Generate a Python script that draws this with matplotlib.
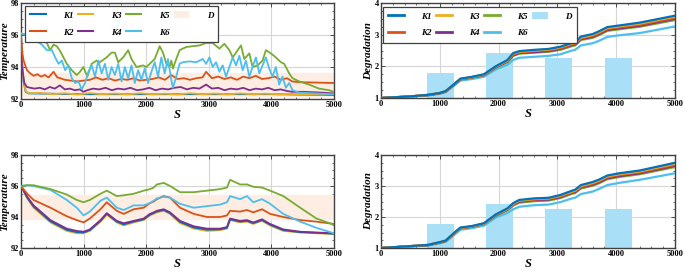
import matplotlib
matplotlib.use("Agg")
import matplotlib.pyplot as plt
from matplotlib.ticker import MultipleLocator
from matplotlib.patches import Patch
from matplotlib.lines import Line2D

plt.rcParams['font.family'] = ['Liberation Serif', 'DejaVu Serif']

names = ['K1', 'K2', 'K3', 'K4', 'K5', 'K6']
colors = {'K1': '#0072BD', 'K2': '#D95319', 'K3': '#EDB120',
          'K4': '#7E2F8E', 'K5': '#77AC30', 'K6': '#4DBEEE'}
band_color = '#FDEDE3'
bar_color = '#A9E0F7'

# ---------------- top-left: temperature (case 1) ----------------
t1_K1_x = [0, 16, 40, 75, 120, 1000, 2000, 3000, 4000, 5000]
t1_K1_y = [96.0, 94.4, 93.1, 92.45, 92.35, 92.3, 92.3, 92.3, 92.3, 92.25]
t1_K3_x = [0, 16, 40, 75, 120, 300, 500, 700, 900, 1100, 1300, 1500, 1700, 1900, 2100,
           2300, 2500, 2700, 2900, 3100, 3300, 3500, 3700, 3900, 4100, 4300, 4500, 4800, 5000]
t1_K3_y = [96.0, 94.5, 93.2, 92.5, 92.35, 92.38, 92.3, 92.36, 92.28, 92.37, 92.3, 92.34, 92.29,
           92.36, 92.3, 92.33, 92.28, 92.36, 92.3, 92.34, 92.29, 92.35, 92.3, 92.33, 92.3, 92.31,
           92.3, 92.28, 92.3]
t1_K2_x = [0, 16, 42, 95, 148, 200, 260, 320, 380, 440, 520, 580, 625, 700, 800, 900, 1000,
           1100, 1200, 1300, 1400, 1500, 1600, 1700, 1800, 1900, 2000, 2100, 2200, 2300, 2400,
           2500, 2600, 2700, 2800, 2900, 2957, 3050, 3150, 3250, 3350, 3450, 3550, 3650, 3750,
           3850, 3950, 4050, 4150, 4250, 4330, 4450, 5000]
t1_K2_y = [96.0, 95.0, 94.4, 93.8, 93.6, 93.45, 93.55, 93.4, 93.5, 93.35, 93.7, 93.35, 93.3,
           93.2, 93.15, 93.1, 93.15, 93.2, 93.35, 93.2, 93.3, 93.15, 93.25, 93.2, 93.3, 93.15,
           93.2, 93.25, 93.35, 93.2, 93.5, 93.25, 93.3, 93.2, 93.3, 93.35, 93.7, 93.3, 93.4,
           93.25, 93.35, 93.2, 93.4, 93.3, 93.45, 93.25, 93.3, 93.4, 93.2, 93.3, 93.1, 93.05, 93.0]
t1_K4_x = [0, 16, 53, 95, 150, 220, 300, 380, 460, 540, 620, 700, 780, 860, 940, 996, 1060,
           1150, 1250, 1350, 1450, 1550, 1650, 1750, 1850, 1950, 2050, 2150, 2250, 2350, 2450,
           2550, 2650, 2750, 2850, 2957, 3050, 3150, 3250, 3350, 3450, 3550, 3650, 3750, 3850,
           3950, 4050, 4150, 4250, 4330, 4500, 4800, 5000]
t1_K4_y = [96.0, 94.0, 93.0, 92.75, 92.7, 92.65, 92.7, 92.6, 92.75, 92.65, 92.85, 92.6, 92.65,
           92.55, 92.6, 92.45, 92.55, 92.65, 92.6, 92.7, 92.55, 92.65, 92.6, 92.7, 92.55, 92.6,
           92.7, 92.55, 92.65, 92.6, 92.7, 92.75, 92.6, 92.7, 92.65, 92.9, 92.65, 92.7, 92.55,
           92.65, 92.6, 92.7, 92.55, 92.65, 92.6, 92.7, 92.55, 92.6, 92.5, 92.45, 92.45, 92.4, 92.35]
t1_K5_x = [0, 100, 200, 300, 413, 466, 520, 572, 625, 678, 731, 811, 890, 943, 996, 1060, 1129,
           1208, 1261, 1367, 1447, 1500, 1553, 1632, 1712, 1765, 1844, 1950, 2003, 2083, 2136,
           2215, 2268, 2321, 2374, 2401, 2427, 2480, 2533, 2639, 2745, 2851, 2957, 3063, 3169,
           3249, 3329, 3382, 3461, 3514, 3567, 3647, 3700, 3780, 3859, 3912, 3992, 4071, 4151,
           4204, 4284, 4337, 4443, 4602, 4761, 4920, 5000]
t1_K5_y = [96.1, 96.0, 95.9, 95.7, 95.5, 95.05, 95.4, 95.3, 95.0, 94.6, 94.2, 93.8, 93.5, 93.7,
           94.0, 93.4, 94.2, 94.4, 94.3, 94.6, 94.9, 94.9, 94.3, 94.6, 95.05, 94.5, 94.0, 94.1,
           94.0, 94.3, 94.5, 95.3, 94.9, 94.2, 94.0, 94.4, 93.9, 94.5, 95.05, 95.25, 95.3, 95.35,
           95.5, 95.5, 95.15, 95.45, 95.05, 94.6, 95.05, 95.35, 94.5, 94.85, 94.0, 94.1, 94.4,
           95.05, 94.85, 94.6, 94.3, 94.2, 93.6, 93.3, 93.1, 92.9, 92.65, 92.55, 92.45]
t1_K6_x = [0, 148, 254, 334, 413, 493, 546, 599, 652, 705, 758, 811, 864, 917, 970, 1023, 1076,
           1129, 1182, 1235, 1288, 1341, 1394, 1447, 1500, 1553, 1606, 1659, 1712, 1765, 1818,
           1871, 1924, 1977, 2030, 2083, 2136, 2189, 2242, 2295, 2348, 2401, 2427, 2480, 2533,
           2586, 2692, 2798, 2904, 2957, 3010, 3063, 3116, 3169, 3222, 3275, 3329, 3382, 3435,
           3488, 3541, 3594, 3647, 3700, 3753, 3806, 3859, 3912, 3965, 4018, 4071, 4124, 4177,
           4231, 4284, 4337, 4443, 4708, 5000]
t1_K6_y = [96.1, 95.9, 95.6, 95.4, 95.05, 95.05, 94.6, 94.2, 94.4, 93.8, 94.1, 93.3, 93.0, 93.1,
           92.6, 93.0, 93.7, 94.1, 93.4, 94.4, 93.6, 94.2, 93.2, 94.0, 93.5, 94.2, 93.1, 94.0,
           93.3, 94.1, 93.0, 93.8, 93.2, 93.9, 93.0, 93.7, 94.3, 93.4, 94.6, 93.6, 94.5, 93.2,
           92.7, 93.4, 94.2, 94.3, 94.35, 94.3, 94.5, 94.2, 94.6, 94.0, 94.3, 93.7, 94.1, 93.4,
           94.0, 94.6, 94.1, 94.7, 93.8, 94.4, 93.4, 94.0, 94.6, 93.6, 94.1, 94.6, 93.9, 93.4,
           94.0, 92.9, 93.4, 92.7, 93.0, 92.55, 92.4, 92.35, 92.3]
t1_band = (92.2, 93.65)

# ---------------- bottom-left: temperature (case 2) ----------------
t2_x = [0, 100, 200, 470, 730, 890, 1000, 1100, 1270, 1370, 1530, 1640, 1800, 1960, 2060, 2120,
        2170, 2280, 2380, 2540, 2760, 2970, 3180, 3290, 3340, 3500, 3610, 3710, 3850, 3980,
        4190, 4460, 4720, 5000]
t2_K1 = [96.0, 95.25, 94.68, 93.72, 93.17, 93.02, 93.0, 93.15, 93.75, 94.2, 93.7, 93.52, 93.7,
         93.85, 94.15, 94.25, 94.35, 94.45, 94.25, 93.68, 93.32, 93.18, 93.2, 93.3, 93.85, 93.7,
         93.75, 93.6, 93.8, 93.5, 93.15, 93.02, 92.98, 92.92]
t2_K2 = [96.0, 95.5, 95.1, 94.6, 94.05, 93.8, 93.65, 93.9, 94.5, 94.95, 94.4, 94.2, 94.5, 94.6,
         94.9, 95.0, 95.15, 95.35, 95.25, 94.6, 94.2, 94.0, 94.0, 94.1, 94.4, 94.35, 94.45, 94.3,
         94.5, 94.2, 94.0, 93.8, 93.7, 93.55]
t2_K3 = [96.0, 95.2, 94.6, 93.65, 93.1, 92.95, 92.95, 93.1, 93.7, 94.15, 93.65, 93.45, 93.65,
         93.8, 94.1, 94.2, 94.3, 94.4, 94.2, 93.6, 93.25, 93.1, 93.15, 93.25, 93.8, 93.65, 93.7,
         93.55, 93.75, 93.45, 93.1, 93.0, 92.95, 92.9]
t2_K4 = [96.0, 95.3, 94.75, 93.8, 93.25, 93.1, 93.05, 93.2, 93.8, 94.25, 93.75, 93.6, 93.75,
         93.9, 94.2, 94.3, 94.4, 94.5, 94.3, 93.75, 93.4, 93.25, 93.25, 93.35, 93.9, 93.75, 93.8,
         93.65, 93.85, 93.55, 93.2, 93.05, 93.0, 92.95]
t2_K5 = [96.0, 96.05, 96.05, 95.8, 95.45, 95.1, 94.95, 95.1, 95.5, 95.7, 95.35, 95.4, 95.5,
         95.7, 95.8, 95.9, 96.1, 96.2, 96.0, 95.6, 95.6, 95.7, 95.8, 95.9, 96.4, 96.1, 96.1,
         95.95, 95.9, 95.7, 95.35, 94.6, 93.9, 93.5]
t2_K6 = [96.0, 96.05, 96.0, 95.75, 95.1, 94.6, 94.1, 94.35, 95.05, 95.25, 94.6, 94.45, 94.75,
         94.75, 94.9, 95.05, 95.2, 95.3, 95.25, 94.85, 94.6, 94.7, 94.8, 94.95, 95.35, 95.15,
         95.35, 94.95, 95.15, 94.85, 94.2, 93.7, 93.3, 92.95]
t2_band = (93.85, 95.45)

# ---------------- right: degradation ----------------
d_x = [0, 500, 800, 1000, 1100, 1250, 1350, 1550, 1750, 1950, 2150, 2250, 2350, 2600, 2850,
       3050, 3250, 3300, 3400, 3600, 3700, 3850, 4050, 4400, 5000]
d1 = {
    'K1': [1.0, 1.05, 1.1, 1.16, 1.22, 1.45, 1.61, 1.67, 1.75, 2.0, 2.2, 2.42, 2.48, 2.52, 2.55,
           2.62, 2.74, 2.76, 2.94, 3.02, 3.1, 3.24, 3.29, 3.38, 3.6],
    'K2': [1.0, 1.05, 1.1, 1.15, 1.21, 1.44, 1.6, 1.66, 1.73, 1.98, 2.17, 2.38, 2.44, 2.48, 2.51,
           2.57, 2.69, 2.71, 2.88, 2.96, 3.04, 3.18, 3.23, 3.31, 3.53],
    'K3': [1.0, 1.05, 1.1, 1.16, 1.22, 1.45, 1.6, 1.66, 1.74, 1.99, 2.18, 2.4, 2.46, 2.5, 2.53,
           2.6, 2.72, 2.74, 2.91, 2.99, 3.07, 3.21, 3.26, 3.35, 3.57],
    'K4': [1.0, 1.05, 1.09, 1.15, 1.21, 1.43, 1.59, 1.65, 1.72, 1.97, 2.15, 2.35, 2.42, 2.45,
           2.48, 2.55, 2.67, 2.69, 2.86, 2.93, 3.01, 3.15, 3.2, 3.28, 3.5],
    'K5': [1.0, 1.05, 1.09, 1.15, 1.2, 1.43, 1.59, 1.64, 1.72, 1.96, 2.14, 2.33, 2.4, 2.43, 2.46,
           2.52, 2.64, 2.66, 2.83, 2.9, 2.98, 3.12, 3.17, 3.25, 3.46],
    'K6': [1.0, 1.04, 1.08, 1.13, 1.18, 1.4, 1.55, 1.6, 1.67, 1.9, 2.05, 2.2, 2.27, 2.3, 2.33,
           2.38, 2.5, 2.52, 2.66, 2.73, 2.8, 2.93, 2.98, 3.05, 3.26],
}
d2 = {
    'K1': [1.0, 1.06, 1.1, 1.19, 1.24, 1.5, 1.66, 1.71, 1.8, 2.08, 2.28, 2.45, 2.55, 2.6, 2.62,
           2.71, 2.85, 2.88, 3.03, 3.13, 3.2, 3.34, 3.41, 3.5, 3.75],
    'K2': [1.0, 1.06, 1.1, 1.18, 1.23, 1.48, 1.64, 1.69, 1.78, 2.06, 2.25, 2.41, 2.51, 2.56, 2.58,
           2.66, 2.8, 2.83, 2.97, 3.07, 3.14, 3.28, 3.35, 3.44, 3.68],
    'K3': [1.0, 1.06, 1.1, 1.19, 1.24, 1.49, 1.65, 1.7, 1.79, 2.07, 2.26, 2.43, 2.53, 2.58, 2.6,
           2.69, 2.82, 2.85, 3.0, 3.1, 3.17, 3.31, 3.38, 3.47, 3.72],
    'K4': [1.0, 1.06, 1.09, 1.18, 1.23, 1.48, 1.64, 1.69, 1.78, 2.05, 2.24, 2.4, 2.49, 2.54, 2.56,
           2.64, 2.78, 2.8, 2.95, 3.04, 3.11, 3.25, 3.32, 3.41, 3.65],
    'K5': [1.0, 1.05, 1.09, 1.17, 1.22, 1.47, 1.63, 1.68, 1.77, 2.04, 2.22, 2.37, 2.46, 2.51, 2.53,
           2.61, 2.75, 2.77, 2.92, 3.01, 3.08, 3.22, 3.29, 3.38, 3.61],
    'K6': [1.0, 1.05, 1.08, 1.15, 1.2, 1.43, 1.59, 1.64, 1.72, 1.98, 2.13, 2.25, 2.33, 2.38, 2.4,
           2.48, 2.6, 2.62, 2.74, 2.82, 2.9, 3.03, 3.1, 3.2, 3.41],
}
bar_left = [780, 1785, 2790, 3810]
bar_height = [1.78, 2.42, 2.27, 2.27]
bar_width = 455

x_ticks = [0, 1000, 2000, 3000, 4000, 5000]

fig = plt.figure(figsize=(6.85, 2.71), dpi=100)
W, H = 685, 271


def add_ax(x0, y0, x1, y1):
    return fig.add_axes([x0 / W, 1 - y1 / H, (x1 - x0) / W, (y1 - y0) / H])


ax_tl = add_ax(21, 3, 334, 99)
ax_bl = add_ax(21, 155, 334, 248)
ax_tr = add_ax(381, 3, 675, 98)
ax_br = add_ax(381, 155, 675, 248)

label_kw = dict(fontsize=8, fontweight='bold', fontstyle='italic')


def style(ax, ylabel, ylim, ymajor, yminor):
    ax.set_xlim(0, 5000)
    ax.set_ylim(*ylim)
    ax.set_xticks(x_ticks)
    ax.xaxis.set_minor_locator(MultipleLocator(200))
    ax.yaxis.set_major_locator(MultipleLocator(ymajor))
    ax.yaxis.set_minor_locator(MultipleLocator(yminor))
    ax.tick_params(which='both', direction='in', top=True, right=True, labelsize=6, pad=1.5,
                   color='#333333')
    ax.tick_params(which='major', length=3, width=0.6)
    ax.tick_params(which='minor', length=1.5, width=0.5)
    for lab in ax.get_xticklabels() + ax.get_yticklabels():
        lab.set_fontweight('bold')
    ax.grid(True, which='major', color='#d6d6d6', lw=0.8)
    ax.set_axisbelow(True)
    for s in ax.spines.values():
        s.set_color('#404040')
        s.set_linewidth(1.0)
    ax.set_xlabel('S', fontsize=9, fontweight='bold', fontstyle='italic', labelpad=0)
    ax.set_ylabel(ylabel, labelpad=1, **label_kw)


# top-left
ax = ax_tl
ax.axhspan(*t1_band, color=band_color, zorder=1)
lw = 1.3
t1 = {'K1': (t1_K1_x, t1_K1_y), 'K3': (t1_K3_x, t1_K3_y), 'K2': (t1_K2_x, t1_K2_y),
      'K4': (t1_K4_x, t1_K4_y), 'K5': (t1_K5_x, t1_K5_y), 'K6': (t1_K6_x, t1_K6_y)}
for n in ['K1', 'K3', 'K4', 'K2', 'K5', 'K6']:
    ax.plot(t1[n][0], t1[n][1], color=colors[n], lw=lw, zorder=3)
style(ax, 'Temperature', (92, 98), 2, 0.5)

# bottom-left
ax = ax_bl
ax.axhspan(*t2_band, color=band_color, zorder=1)
t2 = {'K1': t2_K1, 'K2': t2_K2, 'K3': t2_K3, 'K4': t2_K4, 'K5': t2_K5, 'K6': t2_K6}
for n in ['K3', 'K1', 'K4', 'K2', 'K6', 'K5']:
    ax.plot(t2_x, t2[n], color=colors[n], lw=lw, zorder=3)
style(ax, 'Temperature', (92, 98), 2, 0.5)

# right panels
for ax, d in [(ax_tr, d1), (ax_br, d2)]:
    ax.bar(bar_left, [h - 1 for h in bar_height], width=bar_width, bottom=1, align='edge',
           color=bar_color, zorder=2)
    for n in ['K6', 'K5', 'K4', 'K2', 'K3', 'K1']:
        ax.plot(d_x, d[n], color=colors[n], lw=1.6, zorder=3)
    style(ax, 'Degradation', (1, 4), 1, 0.25)

# legends
order = ['K1', 'K2', 'K3', 'K4', 'K5', 'K6']
l1 = order + ['D']
leg_kw = dict(ncol=4, loc='upper left', frameon=True, fancybox=False, framealpha=1,
              edgecolor='#404040', handlelength=1.7, handletextpad=1.9, columnspacing=0.55,
              borderpad=0.6, labelspacing=0.95, borderaxespad=0,
              prop=dict(family='Liberation Serif', weight='bold', style='italic', size=6.5))
h1 = [Line2D([], [], color=colors[n], lw=1.5) for n in order] + \
     [Patch(facecolor=band_color, edgecolor='none')]
leg = ax_tl.legend(h1, l1, bbox_to_anchor=(0.012, 0.97), **leg_kw)
leg.get_frame().set_linewidth(0.9)
leg.set_zorder(10)
h2 = [Line2D([], [], color=colors[n], lw=2.0) for n in order] + \
     [Patch(facecolor=bar_color, edgecolor='none')]
leg2 = ax_tr.legend(h2, l1, bbox_to_anchor=(0.007, 0.96), **leg_kw)
leg2.get_frame().set_linewidth(0.9)
leg2.set_zorder(10)

fig.savefig('out.png', dpi=100)
